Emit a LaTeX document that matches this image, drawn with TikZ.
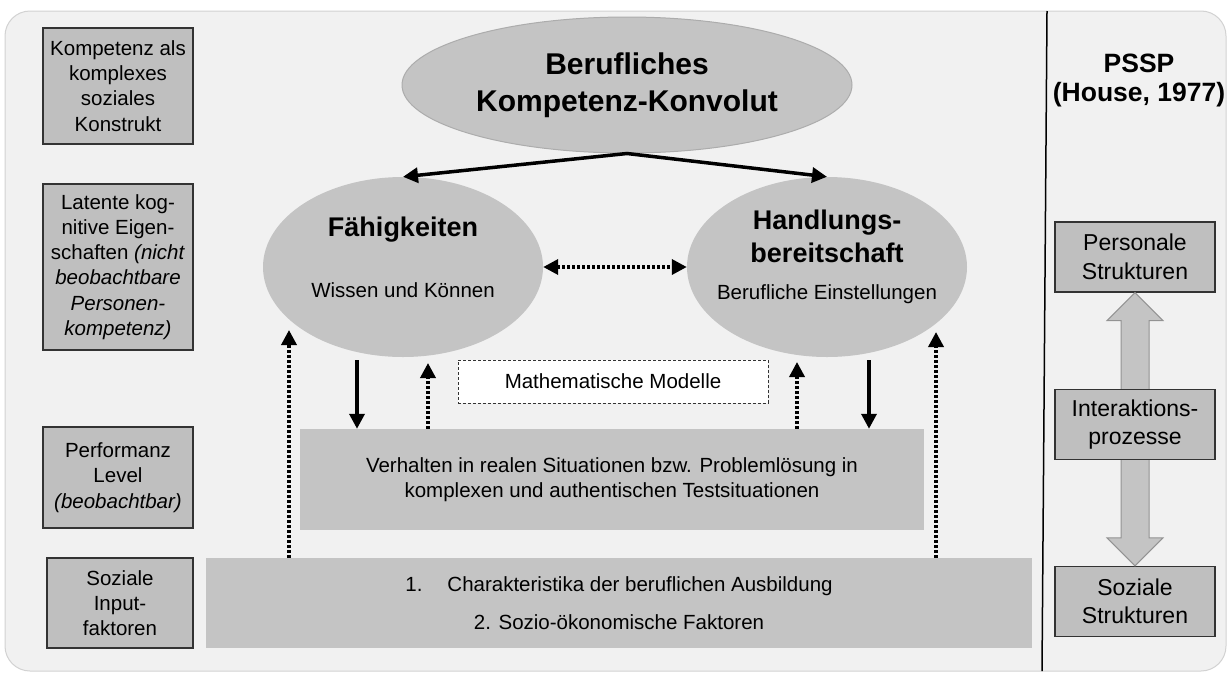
\documentclass[tikz,border=0pt]{standalone}
\usepackage{fontspec}
\setmainfont{Liberation Sans}
\usetikzlibrary{shapes.geometric,arrows.meta,calc}
\definecolor{grund}{gray}{0.945}
\definecolor{kastgrau}{gray}{0.75}
\definecolor{blasgrau}{gray}{0.77}
\definecolor{rand}{gray}{0.2}

\begin{document}
\begin{tikzpicture}[x=1pt,y=-1pt,
  kasten/.style={draw=rand,line width=1.3pt,fill=kastgrau,align=center,inner sep=0pt,font=\fontsize{20.5}{25.3}\selectfont},
  rkasten/.style={kasten,minimum width=160pt,minimum height=70pt,font=\fontsize{23}{28.5}\selectfont},
  blase/.style={ellipse,fill=blasgrau,inner sep=0pt},
  flach/.style={fill=blasgrau,align=center,inner sep=0pt,font=\fontsize{20.5}{25}\selectfont},
  modell/.style={draw=rand,fill=white,line width=1pt,dash pattern=on 3pt off 2pt,inner sep=0pt,font=\fontsize{20.5}{25}\selectfont},
  pfeil/.style={line width=3.5pt,>={Triangle[length=15pt,width=15pt]}},
  punktpfeil/.style={pfeil,line width=3.5pt,dash pattern=on 3pt off 2pt},
  breitpfeil/.style={fill=blasgrau,draw=gray!85,line width=1pt}]
\useasboundingbox (0,0) rectangle (1230,675);
\fill[white] (0,0) rectangle (1230,675);
\draw[fill=grund,draw=gray!35,line width=1pt,rounded corners=25pt] (5,11) rectangle (1226,671);
\draw[line width=1.5pt] (1047,11) -- (1042,671);

\node (k1) [kasten,minimum width=150pt,minimum height=116pt] at (118,86) {Kompetenz als\\komplexes\\soziales\\Konstrukt};
\node (k2) [kasten,minimum width=150pt,minimum height=166pt] at (118,267) {Latente kog-\\nitive Eigen-\\schaften \textit{(nicht}\\\textit{beobachtbare}\\\textit{Personen-}\\\textit{kompetenz)}};
\node (k3) [kasten,minimum width=150pt,minimum height=101pt] at (118,477.5) {Performanz\\Level\\\textit{(beobachtbar)}};
\node (k4) [kasten,minimum width=146pt,minimum height=90pt] at (120,603) {Soziale\\Input-\\faktoren};

\node (konvolut) [blase,draw=gray!65,line width=1pt,minimum width=450pt,minimum height=136pt,align=center,font=\bfseries\fontsize{30}{37}\selectfont] at (627,85) {Berufliches\\Kompetenz-Konvolut};
\node (faehig) [blase,minimum width=280pt,minimum height=180pt] at (403,267) {};
\node (bereit) [blase,minimum width=280pt,minimum height=180pt] at (827,267) {};
\node (faehigT) [font=\bfseries\fontsize{27}{33}\selectfont] at (403,230) {Fähigkeiten};
\node (faehigS) [font=\fontsize{20.5}{25}\selectfont] at (403,290) {Wissen und Können};
\node (bereitT) [align=center,font=\bfseries\fontsize{27}{33}\selectfont] at (827,236) {Handlungs-\\bereitschaft};
\node (bereitS) [font=\fontsize{20.5}{25}\selectfont] at (827,294) {Berufliche Einstellungen};

\node (modell) [modell,minimum width=310pt,minimum height=43pt] at (613,381.5) {Mathematische Modelle};
\node (verh) [flach,minimum width=624pt,minimum height=101pt] at (612,479.5) {Verhalten in realen Situationen bzw. Problemlösung in\\komplexen und authentischen Testsituationen};
\node (ausb) [flach,minimum width=826pt,minimum height=90pt] at (619,603) {1.\hspace{25pt}Charakteristika der beruflichen Ausbildung\\[13pt]2. Sozio-ökonomische Faktoren};

\draw[pfeil,<->] (faehig.north) -- (konvolut.south) -- (bereit.north);
\draw[punktpfeil,<->] (faehig.east) -- (bereit.west);
\coordinate (a1) at (357,360); \coordinate (a2) at (869,360);
\coordinate (b1) at (428,363); \coordinate (b2) at (797,362);
\coordinate (c1) at (289,330); \coordinate (c2) at (936,332);
\draw[pfeil,->] (a1) -- (a1 |- verh.north);
\draw[pfeil,->] (a2) -- (a2 |- verh.north);
\draw[punktpfeil,->] (b1 |- verh.north) -- (b1);
\draw[punktpfeil,->] (b2 |- verh.north) -- (b2);
\draw[punktpfeil,->] (c1 |- ausb.north) -- (c1);
\draw[punktpfeil,->] (c2 |- ausb.north) -- (c2);

\node (pssp) [align=center,font=\bfseries\fontsize{26.5}{29}\selectfont] at (1139,80) {PSSP\\(House, 1977)};
\node (pers) [rkasten] at (1135,257) {Personale\\Strukturen};
\node (sozs) [rkasten] at (1135,601.5) {Soziale\\Strukturen};
\draw[breitpfeil] (pers.south) -- ++(28,28) -- ++(-14,0) -- ($(sozs.north)+(14,-28)$) -- ++(14,0) -- (sozs.north) -- ++(-28,-28) -- ++(14,0) -- ($(pers.south)+(-14,28)$) -- ++(-14,0) -- cycle;
\node (inter) [rkasten] at (1135,424.5) {Interaktions-\\prozesse};
\end{tikzpicture}
\end{document}
